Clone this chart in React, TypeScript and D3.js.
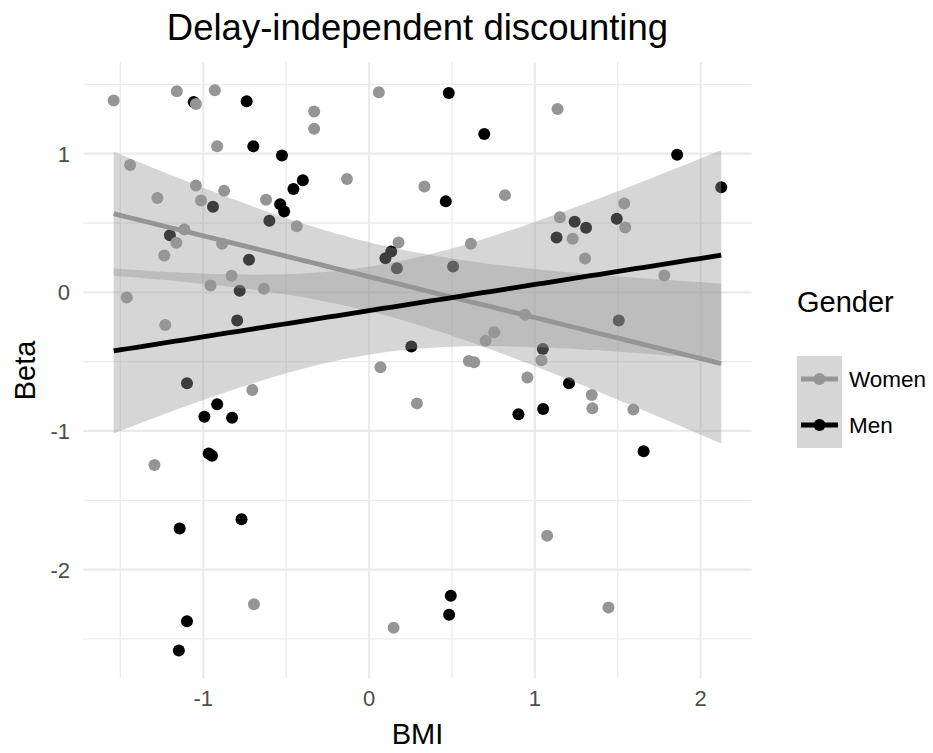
import React from "react";
import * as d3 from "d3";

const title = "Delay-independent discounting";
const xLabel = "BMI";
const yLabel = "Beta";
const legendTitle = "Gender";
const groups = ["Women", "Men"];
const xTicks = [-1, 0, 1, 2];
const yTicks = [1, 0, -1, -2];
const xMinor = [-1.5, -0.5, 0.5, 1.5];
const yMinor = [1.5, 0.5, -0.5, -1.5, -2.5];

const womenBMI = [
  -1.54, -1.159, -1.044, -0.93, -0.331, -0.331, -0.916, -1.441, -1.044, -0.874,
  -1.276, -1.013, -0.621, -0.436, -1.114, -1.162, -0.886, -1.235, -0.829, -0.956,
  -0.634, -1.461, -1.229, -0.704, -1.294, -0.694, 0.059, -0.133, 0.334, 0.82,
  0.178, 0.614, 1.137, 1.539, 1.151, 1.545, 1.228, 1.303, 1.781, 0.941,
  0.755, 0.703, 0.069, 0.602, 0.634, 0.955, 0.289, 1.04, 1.343, 1.347,
  1.594, 1.074, 0.148, 1.444,
];
const womenBeta = [
  1.383, 1.45, 1.358, 1.457, 1.305, 1.18, 1.053, 0.918, 0.771, 0.733,
  0.68, 0.663, 0.668, 0.477, 0.453, 0.357, 0.35, 0.266, 0.119, 0.049,
  0.025, -0.038, -0.235, -0.704, -1.246, -2.249, 1.443, 0.817, 0.764, 0.701,
  0.36, 0.35, 1.322, 0.641, 0.542, 0.468, 0.386, 0.244, 0.121, -0.162,
  -0.288, -0.35, -0.541, -0.495, -0.505, -0.615, -0.801, -0.49, -0.74, -0.837,
  -0.846, -1.756, -2.42, -2.273,
];
const menBMI = [
  -1.057, -0.738, -0.698, -0.525, -0.399, -0.456, -0.941, -0.536, -0.512, -0.601,
  -1.201, -0.724, -0.78, -0.795, -1.098, -0.916, -0.993, -0.826, -0.967, -0.947,
  -1.142, -0.769, -1.098, -1.147, 0.481, 0.695, 0.463, 0.099, 0.134, 0.168,
  0.507, 1.858, 2.124, 1.24, 1.309, 1.494, 1.131, 0.255, 0.901, 1.506,
  1.048, 1.206, 1.05, 1.656, 0.493, 0.483,
];
const menBeta = [
  1.373, 1.378, 1.053, 0.986, 0.809, 0.745, 0.617, 0.636, 0.583, 0.516,
  0.412, 0.235, 0.011, -0.204, -0.656, -0.808, -0.897, -0.904, -1.162, -1.178,
  -1.703, -1.636, -2.372, -2.584, 1.438, 1.142, 0.656, 0.246, 0.295, 0.174,
  0.186, 0.993, 0.757, 0.509, 0.466, 0.531, 0.396, -0.391, -0.88, -0.204,
  -0.408, -0.656, -0.841, -1.147, -2.189, -2.326,
];

const W = 933;
const H = 753;
const panel = { left: 83.3, right: 751.6, top: 62.3, bottom: 678.6 };
const colors: Record<string, string> = { Women: "#959595", Men: "#000000" };
const FONT = "'Liberation Sans', Arial, Helvetica, sans-serif";

function tQuant975(df: number) {
  const z = 1.959964;
  const g1 = (z ** 3 + z) / 4;
  const g2 = (5 * z ** 5 + 16 * z ** 3 + 3 * z) / 96;
  const g3 = (3 * z ** 7 + 19 * z ** 5 + 17 * z ** 3 - 15 * z) / 384;
  return z + g1 / df + g2 / df ** 2 + g3 / df ** 3;
}

function fitLm(xs: number[], ys: number[], xseq: number[]) {
  const n = xs.length;
  const xbar = d3.mean(xs) as number;
  const ybar = d3.mean(ys) as number;
  let sxx = 0, sxy = 0;
  for (let i = 0; i < n; i++) {
    sxx += (xs[i] - xbar) ** 2;
    sxy += (xs[i] - xbar) * (ys[i] - ybar);
  }
  const b = sxy / sxx;
  const a = ybar - b * xbar;
  let rss = 0;
  for (let i = 0; i < n; i++) rss += (ys[i] - a - b * xs[i]) ** 2;
  const s = Math.sqrt(rss / (n - 2));
  const t = tQuant975(n - 2);
  return xseq.map((x) => {
    const y = a + b * x;
    const se = s * Math.sqrt(1 / n + (x - xbar) ** 2 / sxx);
    return { x, y, lo: y - t * se, hi: y + t * se };
  });
}

export default function App() {
  const allX = [...womenBMI, ...menBMI];
  const allY = [...womenBeta, ...menBeta];
  const xExt = d3.extent(allX) as [number, number];
  const yExt = d3.extent(allY) as [number, number];
  const xPad = (xExt[1] - xExt[0]) * 0.05;
  const yPad = (yExt[1] - yExt[0]) * 0.05;
  const x = d3.scaleLinear().domain([xExt[0] - xPad, xExt[1] + xPad]).range([panel.left, panel.right]);
  const y = d3.scaleLinear().domain([yExt[0] - yPad, yExt[1] + yPad]).range([panel.bottom, panel.top]);

  const xseq = d3.range(80).map((i) => xExt[0] + ((xExt[1] - xExt[0]) * i) / 79);
  const data: Record<string, { xs: number[]; ys: number[] }> = {
    Women: { xs: womenBMI, ys: womenBeta },
    Men: { xs: menBMI, ys: menBeta },
  };
  const fits: Record<string, ReturnType<typeof fitLm>> = {};
  groups.forEach((g) => (fits[g] = fitLm(data[g].xs, data[g].ys, xseq)));

  const area = d3
    .area<{ x: number; lo: number; hi: number }>()
    .x((d) => x(d.x))
    .y0((d) => y(d.lo))
    .y1((d) => y(d.hi));
  const line = d3
    .line<{ x: number; y: number }>()
    .x((d) => x(d.x))
    .y((d) => y(d.y));

  const pointOrder = ["Men", "Women"];

  return (
    <svg width={W} height={H} style={{ position: "absolute", left: 0, top: 0, background: "#fff" }} fontFamily={FONT}>
      <rect x={0} y={0} width={W} height={H} fill="#ffffff" />
      {xMinor.map((v) => (
        <line key={"xm" + v} x1={x(v)} x2={x(v)} y1={panel.top} y2={panel.bottom} stroke="#ebebeb" strokeWidth={1.3} />
      ))}
      {yMinor.map((v) => (
        <line key={"ym" + v} x1={panel.left} x2={panel.right} y1={y(v)} y2={y(v)} stroke="#ebebeb" strokeWidth={1.3} />
      ))}
      {xTicks.map((v) => (
        <line key={"xM" + v} x1={x(v)} x2={x(v)} y1={panel.top} y2={panel.bottom} stroke="#ebebeb" strokeWidth={2.2} />
      ))}
      {yTicks.map((v) => (
        <line key={"yM" + v} x1={panel.left} x2={panel.right} y1={y(v)} y2={y(v)} stroke="#ebebeb" strokeWidth={2.2} />
      ))}
      {pointOrder.map((g) =>
        data[g].xs.map((xv, i) => (
          <circle key={g + i} cx={x(xv)} cy={y(data[g].ys[i])} r={6} fill={colors[g]} />
        ))
      )}
      {groups.map((g) => (
        <g key={"fit" + g}>
          <path d={area(fits[g]) || ""} fill="#999999" fillOpacity={0.4} />
          <path d={line(fits[g]) || ""} fill="none" stroke={colors[g]} strokeWidth={4.8} />
        </g>
      ))}
      {xTicks.map((v) => (
        <text key={"xt" + v} x={x(v)} y={706} textAnchor="middle" fontSize={22} fill="#4d4d4d">
          {v}
        </text>
      ))}
      {yTicks.map((v) => (
        <text key={"yt" + v} x={70} y={y(v) + 8} textAnchor="end" fontSize={22} fill="#4d4d4d">
          {v}
        </text>
      ))}
      <text x={(panel.left + panel.right) / 2} y={744} textAnchor="middle" fontSize={29} fill="#000">
        {xLabel}
      </text>
      <text
        transform={`translate(35,${(panel.top + panel.bottom) / 2}) rotate(-90)`}
        textAnchor="middle"
        fontSize={29}
        fill="#000"
      >
        {yLabel}
      </text>
      <text x={(panel.left + panel.right) / 2} y={40} textAnchor="middle" fontSize={36.5} fill="#000">
        {title}
      </text>
      <text x={797} y={312} fontSize={29} fill="#000">
        {legendTitle}
      </text>
      {groups.map((g, i) => {
        const ky = 356 + i * 46;
        return (
          <g key={"leg" + g}>
            <rect x={797} y={ky} width={45} height={46} fill="#999999" fillOpacity={0.4} />
            <line x1={801} x2={838} y1={ky + 23} y2={ky + 23} stroke={colors[g]} strokeWidth={4.8} />
            <circle cx={819.5} cy={ky + 23} r={6} fill={colors[g]} />
            <text x={849} y={ky + 31} fontSize={22.5} fill="#000">
              {g}
            </text>
          </g>
        );
      })}
    </svg>
  );
}
